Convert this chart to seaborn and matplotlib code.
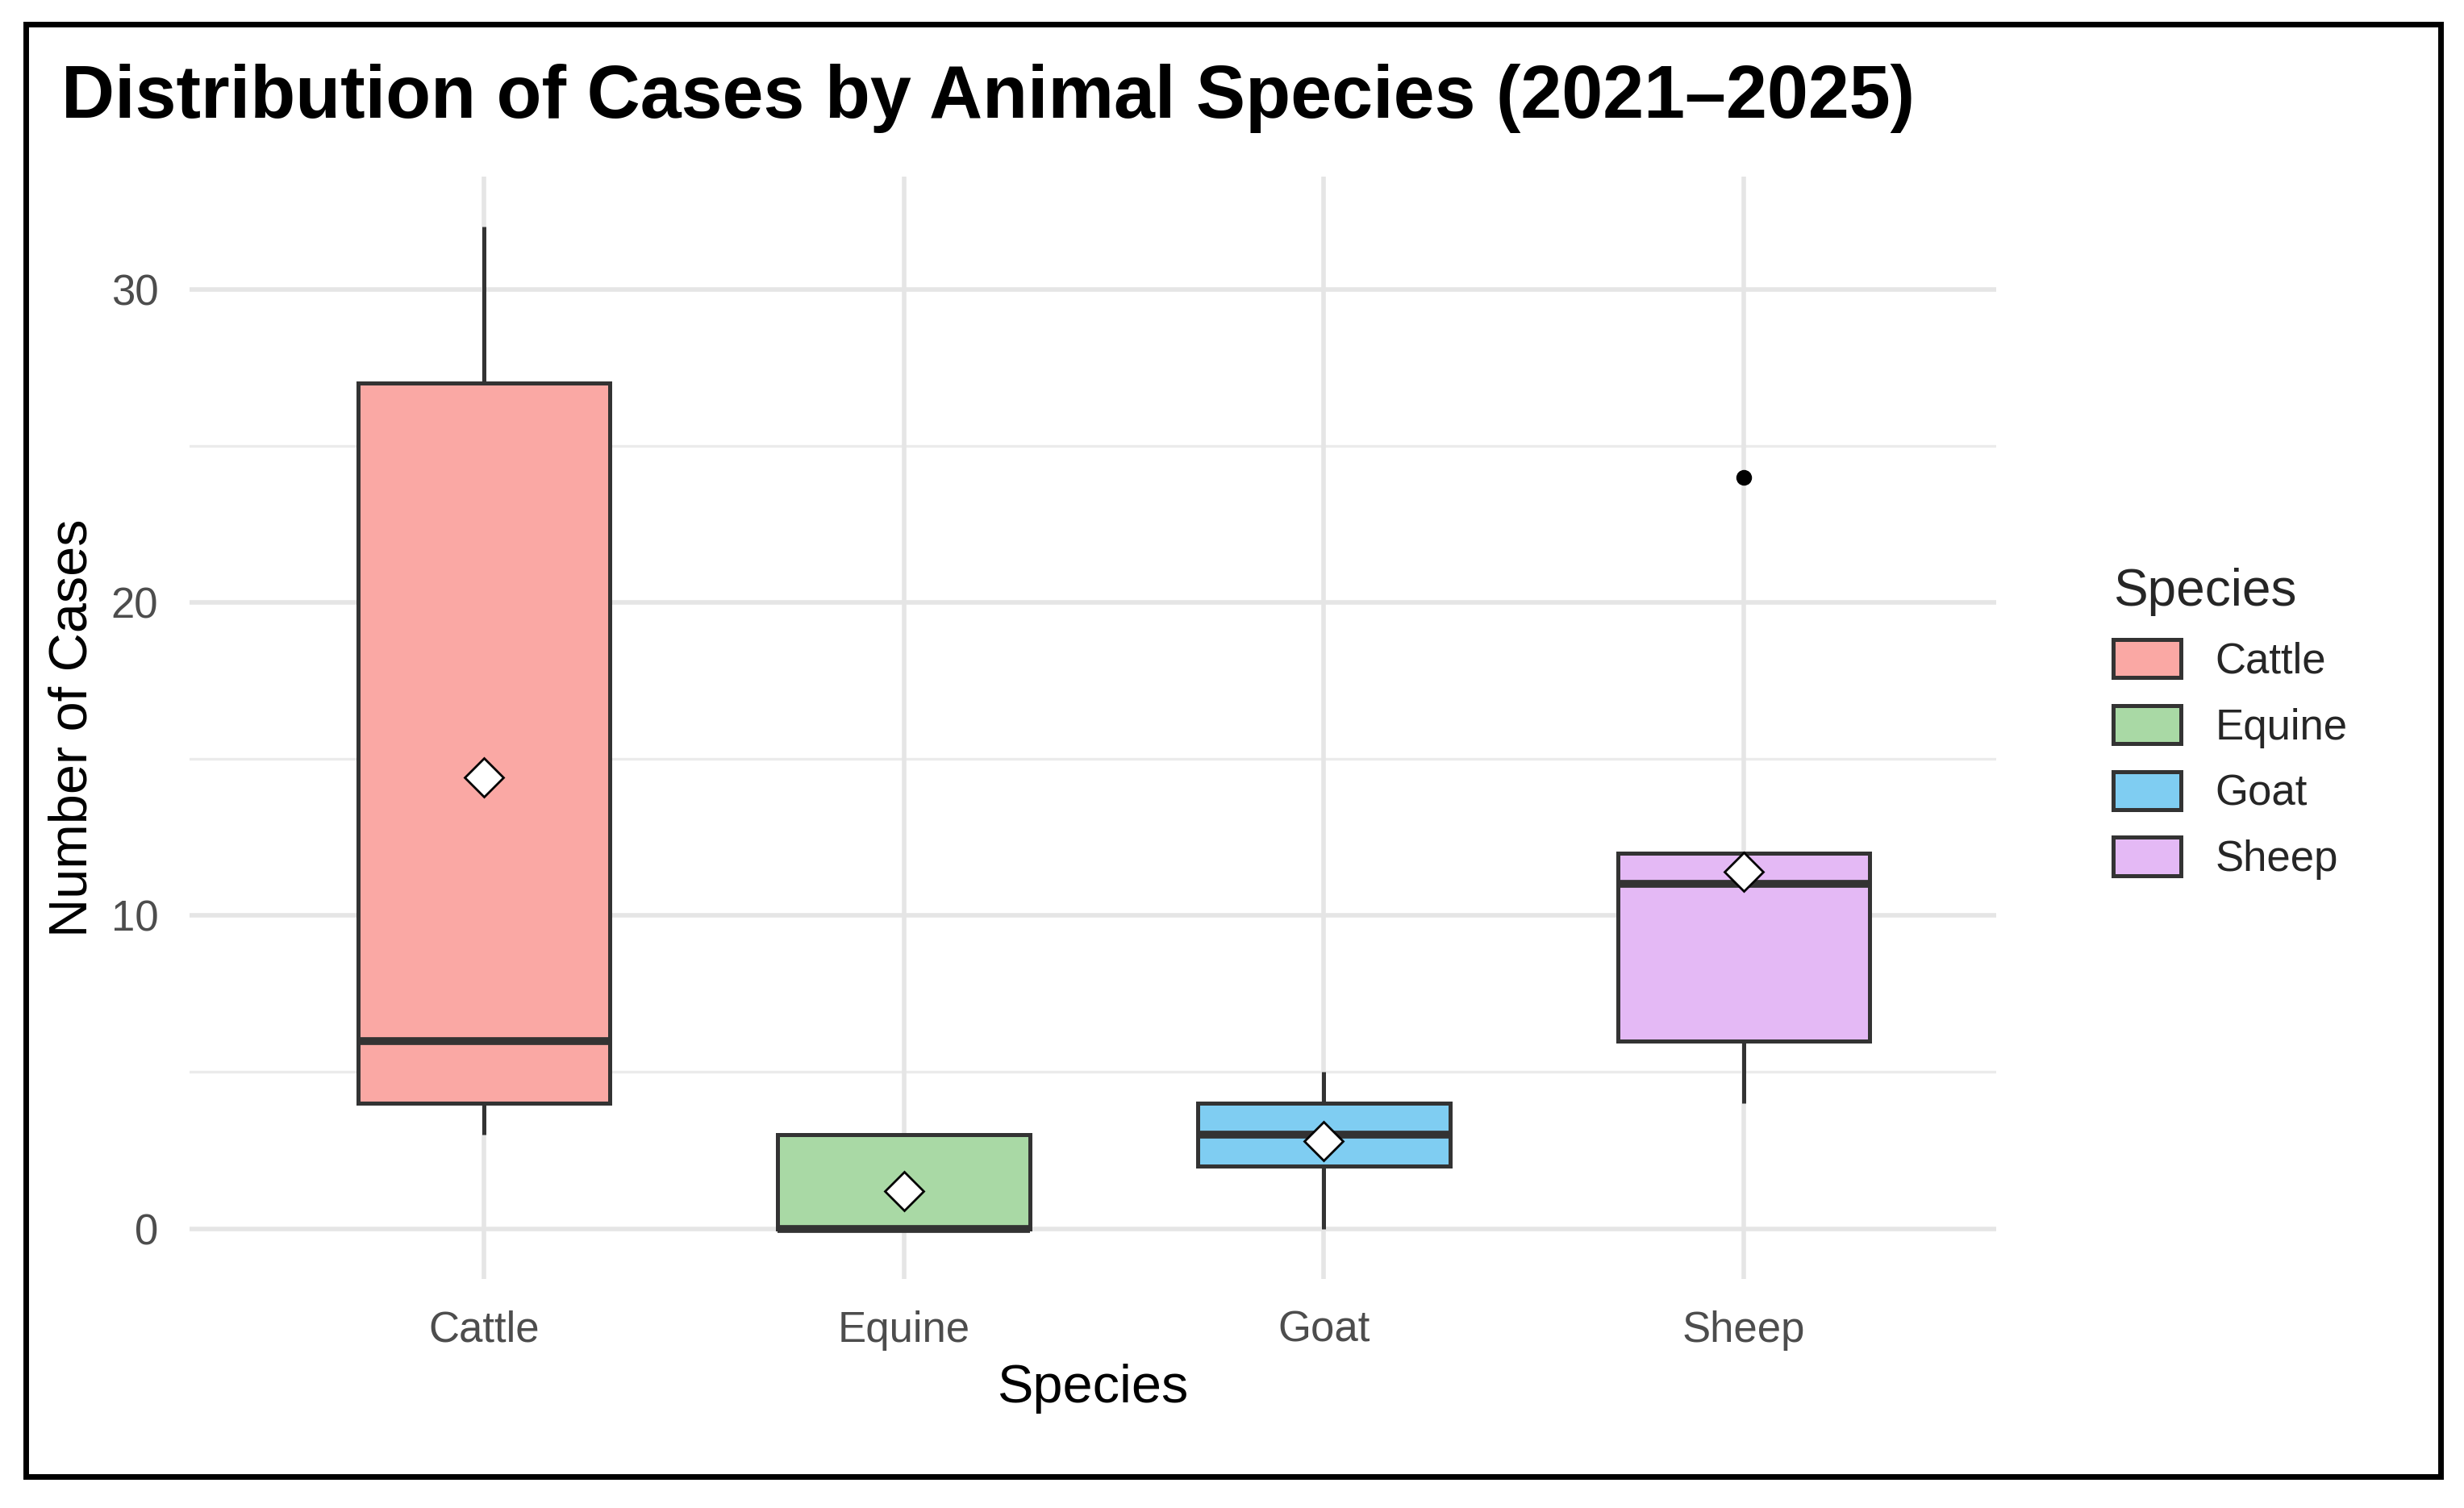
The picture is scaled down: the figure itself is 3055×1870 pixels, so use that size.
import numpy as np
import pandas as pd
import seaborn as sns
import matplotlib.pyplot as plt
from matplotlib.patches import Patch, Rectangle

species = ["Cattle", "Equine", "Goat", "Sheep"]
cattle = [3, 4, 6, 27, 32]
equine = [0, 0, 0, 3, 3]
goat = [0, 2, 3, 4, 5]
sheep = [4, 6, 11, 12, 24]
colors = ["#FAA8A4", "#A9D9A5", "#7FCDF2", "#E4B9F5"]

df = pd.DataFrame({
    "Species": np.repeat(species, 5),
    "Cases": cattle + equine + goat + sheep,
})

sns.set_style("white")
plt.rcParams['font.family'] = ['Liberation Sans', 'DejaVu Sans']
fig = plt.figure(figsize=(15.275, 9.35), dpi=200)
ax = fig.add_axes([0.077, 0.152, 0.733, 0.731])

for y in [5, 15, 25]:
    ax.axhline(y, color="#EBEBEB", lw=1.2, zorder=0)
for y in [0, 10, 20, 30]:
    ax.axhline(y, color="#E5E5E5", lw=2, zorder=0)
for x in range(4):
    ax.axvline(x, color="#E5E5E5", lw=2, zorder=0)

sns.boxplot(data=df, x="Species", y="Cases", hue="Species", palette=colors,
            saturation=1, width=0.6, linewidth=1.8, linecolor="#333333",
            legend=False, ax=ax,
            capprops=dict(linewidth=0),
            medianprops=dict(linewidth=3.5, color="#333333"),
            flierprops=dict(marker="o", markerfacecolor="black", markeredgecolor="black", markersize=6),
            showmeans=True,
            meanprops=dict(marker="D", markerfacecolor="white", markeredgecolor="black", markersize=12, markeredgewidth=1))
for p in ax.patches:
    p.set_zorder(2)

ax.set_xlim(-0.7, 3.6)
ax.set_ylim(-1.6, 33.6)
ax.set_yticks([0, 10, 20, 30])
for s in ax.spines.values():
    s.set_visible(False)
ax.tick_params(axis="both", labelsize=19, colors="#4D4D4D", length=0, pad=14)
ax.set_xlabel("Species", fontsize=24, color="black", labelpad=6)
ax.set_ylabel("Number of Cases", fontsize=24, color="black", labelpad=6)

fig.text(0.025, 0.935, "Distribution of Cases by Animal Species (2021\u20132025)",
         fontsize=33, fontweight="bold", va="center", ha="left", color="black")

handles = [Patch(facecolor=c, edgecolor="#333333", linewidth=1.8) for c in colors]
leg = fig.legend(handles, species, title="Species", loc="center left",
                 bbox_to_anchor=(0.842, 0.52), frameon=False, fontsize=19,
                 title_fontsize=23, handlelength=1.6, handleheight=1.0,
                 labelspacing=0.55, alignment="left")

fig.add_artist(Rectangle((0.0105, 0.021), 0.98, 0.963, transform=fig.transFigure,
                         fill=False, edgecolor="black", linewidth=2.5))
fig.savefig("out.png", dpi=200)
